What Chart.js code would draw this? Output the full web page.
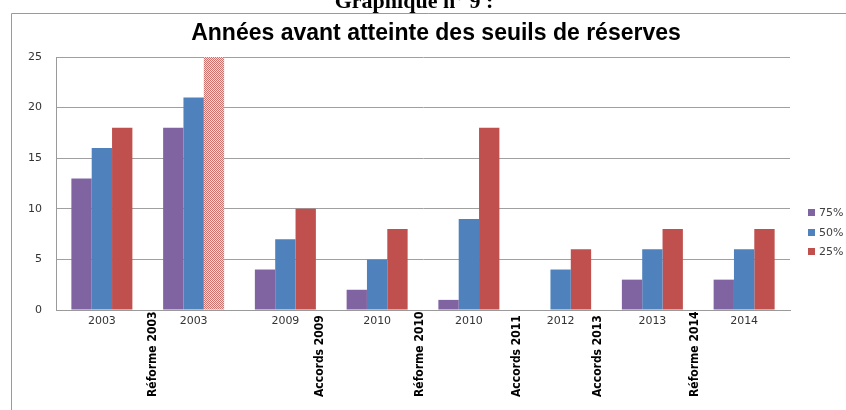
<!DOCTYPE html>
<html>
<head>
<meta charset="utf-8">
<script src="https://cdn.jsdelivr.net/npm/chart.js@4.4.1/dist/chart.umd.min.js"></script>
<style>
  html, body { margin: 0; padding: 0; background: #ffffff; }
  #wrap { width: 846px; height: 410px; }
</style>
</head>
<body>
<div id="wrap"><canvas id="chart" width="846" height="410"></canvas></div>
<script>
// categories and series
var years = ['2003', '2003', '2009', '2010', '2010', '2012', '2013', '2014'];
var seriesNames = ['75%', '50%', '25%'];
var values75 = [13, 18, 4, 2, 1, 0, 3, 3];
var values50 = [16, 21, 7, 5, 9, 4, 6, 6];
var values25 = [18, 25, 10, 8, 18, 6, 8, 8];
var yTicks = [0, 5, 10, 15, 20, 25];

// events written under the axis, placed between categories (category units)
var eventLabels = ['Réforme 2003', 'Accords 2009', 'Réforme 2010', 'Accords 2011', 'Accords 2013', 'Réforme 2014'];
var eventAt = [0.56, 2.38, 3.47, 4.52, 5.41, 6.46];

var chartTitle = 'Années avant atteinte des seuils de réserves';
var pageHeading = 'Graphique n° 9 :';

var purple = '#8064a2';
var blue = '#4f81bd';
var red = '#c0504d';

/**
* Checkered fill for the capped 25% bar of the second group
*/
function makeHatch() {
    var c = document.createElement('canvas');
    c.width = 2;
    c.height = 2;
    var g = c.getContext('2d');
    g.fillStyle = '#f7dcdc';
    g.fillRect(0, 0, 2, 2);
    g.fillStyle = '#d0706d';
    g.fillRect(0, 0, 1, 1);
    g.fillRect(1, 1, 1, 1);
    return g.createPattern(c, 'repeat');
}
var hatch = makeHatch();
var redColors = values25.map(function(v, i) { return i === 1 ? hatch : red; });

var framePlugin = {
    id: 'frame',
    beforeDraw: function(chart) {
        var ctx = chart.ctx;
        ctx.save();
        ctx.strokeStyle = '#9a9a9a';
        ctx.lineWidth = 1;
        ctx.beginPath();
        ctx.moveTo(11.5, 410);
        ctx.lineTo(11.5, 13.5);
        ctx.lineTo(846, 13.5);
        ctx.stroke();
        // heading of the page, cut at the top
        ctx.fillStyle = '#000000';
        ctx.font = 'bold 22px "Liberation Serif", "Times New Roman", serif';
        ctx.textAlign = 'center';
        ctx.textBaseline = 'alphabetic';
        ctx.fillText(pageHeading, 414, 8);
        // chart title
        ctx.font = 'bold 23px "Liberation Sans", Arial, sans-serif';
        ctx.textBaseline = 'middle';
        ctx.fillText(chartTitle, 436, 34);
        ctx.restore();
    }
};

var extrasPlugin = {
    id: 'extras',
    afterDraw: function(chart) {
        var ctx = chart.ctx;
        var x = chart.scales.x;
        ctx.save();
        // rotated event labels
        ctx.fillStyle = '#000000';
        ctx.font = 'bold 12px "Liberation Sans Narrow", "DejaVu Sans Condensed", sans-serif';
        ctx.textAlign = 'left';
        ctx.textBaseline = 'middle';
        eventLabels.forEach(function(label, i) {
            var px = x.getPixelForValue(eventAt[i]);
            ctx.save();
            ctx.translate(px, 397);
            ctx.rotate(-Math.PI / 2);
            ctx.fillText(label, 0, 0);
            ctx.restore();
        });
        // legend
        ctx.font = '11px "DejaVu Sans", sans-serif';
        ctx.textBaseline = 'middle';
        var rowsY = [212, 232, 251];
        chart.data.datasets.forEach(function(ds, i) {
            ctx.fillStyle = ds.legendColor;
            ctx.fillRect(808, rowsY[i] - 3, 7, 7);
            ctx.fillStyle = '#404040';
            ctx.fillText(ds.label, 819, rowsY[i] + 1);
        });
        ctx.restore();
    }
};

new Chart(document.getElementById('chart'), {
    type: 'bar',
    data: {
        labels: years,
        datasets: [
            { label: seriesNames[0], data: values75, backgroundColor: purple, legendColor: purple },
            { label: seriesNames[1], data: values50, backgroundColor: blue, legendColor: blue },
            { label: seriesNames[2], data: values25, backgroundColor: redColors, legendColor: red }
        ]
    },
    options: {
        responsive: false,
        animation: false,
        layout: { padding: { left: 0, right: 56, top: 57, bottom: 0 } },
        datasets: {
            bar: { categoryPercentage: 0.665, barPercentage: 1.0 }
        },
        plugins: {
            legend: { display: false },
            tooltip: { enabled: false },
            title: { display: false }
        },
        scales: {
            x: {
                grid: { display: false, drawTicks: false },
                border: { display: true, color: '#9a9a9a' },
                ticks: {
                    color: '#333333',
                    font: { family: '"DejaVu Sans", sans-serif', size: 11 },
                    padding: 5,
                    maxRotation: 0
                },
                afterFit: function(scale) { scale.height = 100; }
            },
            y: {
                min: 0,
                max: 25,
                afterBuildTicks: function(scale) {
                    scale.ticks = yTicks.map(function(v) { return { value: v }; });
                },
                grid: { color: '#a0a0a0', drawTicks: false },
                border: { display: true, color: '#9a9a9a' },
                ticks: {
                    color: '#333333',
                    font: { family: '"DejaVu Sans", sans-serif', size: 11 },
                    padding: 14
                },
                afterFit: function(scale) { scale.width = 56; }
            }
        }
    },
    plugins: [framePlugin, extrasPlugin]
});
</script>
</body>
</html>
